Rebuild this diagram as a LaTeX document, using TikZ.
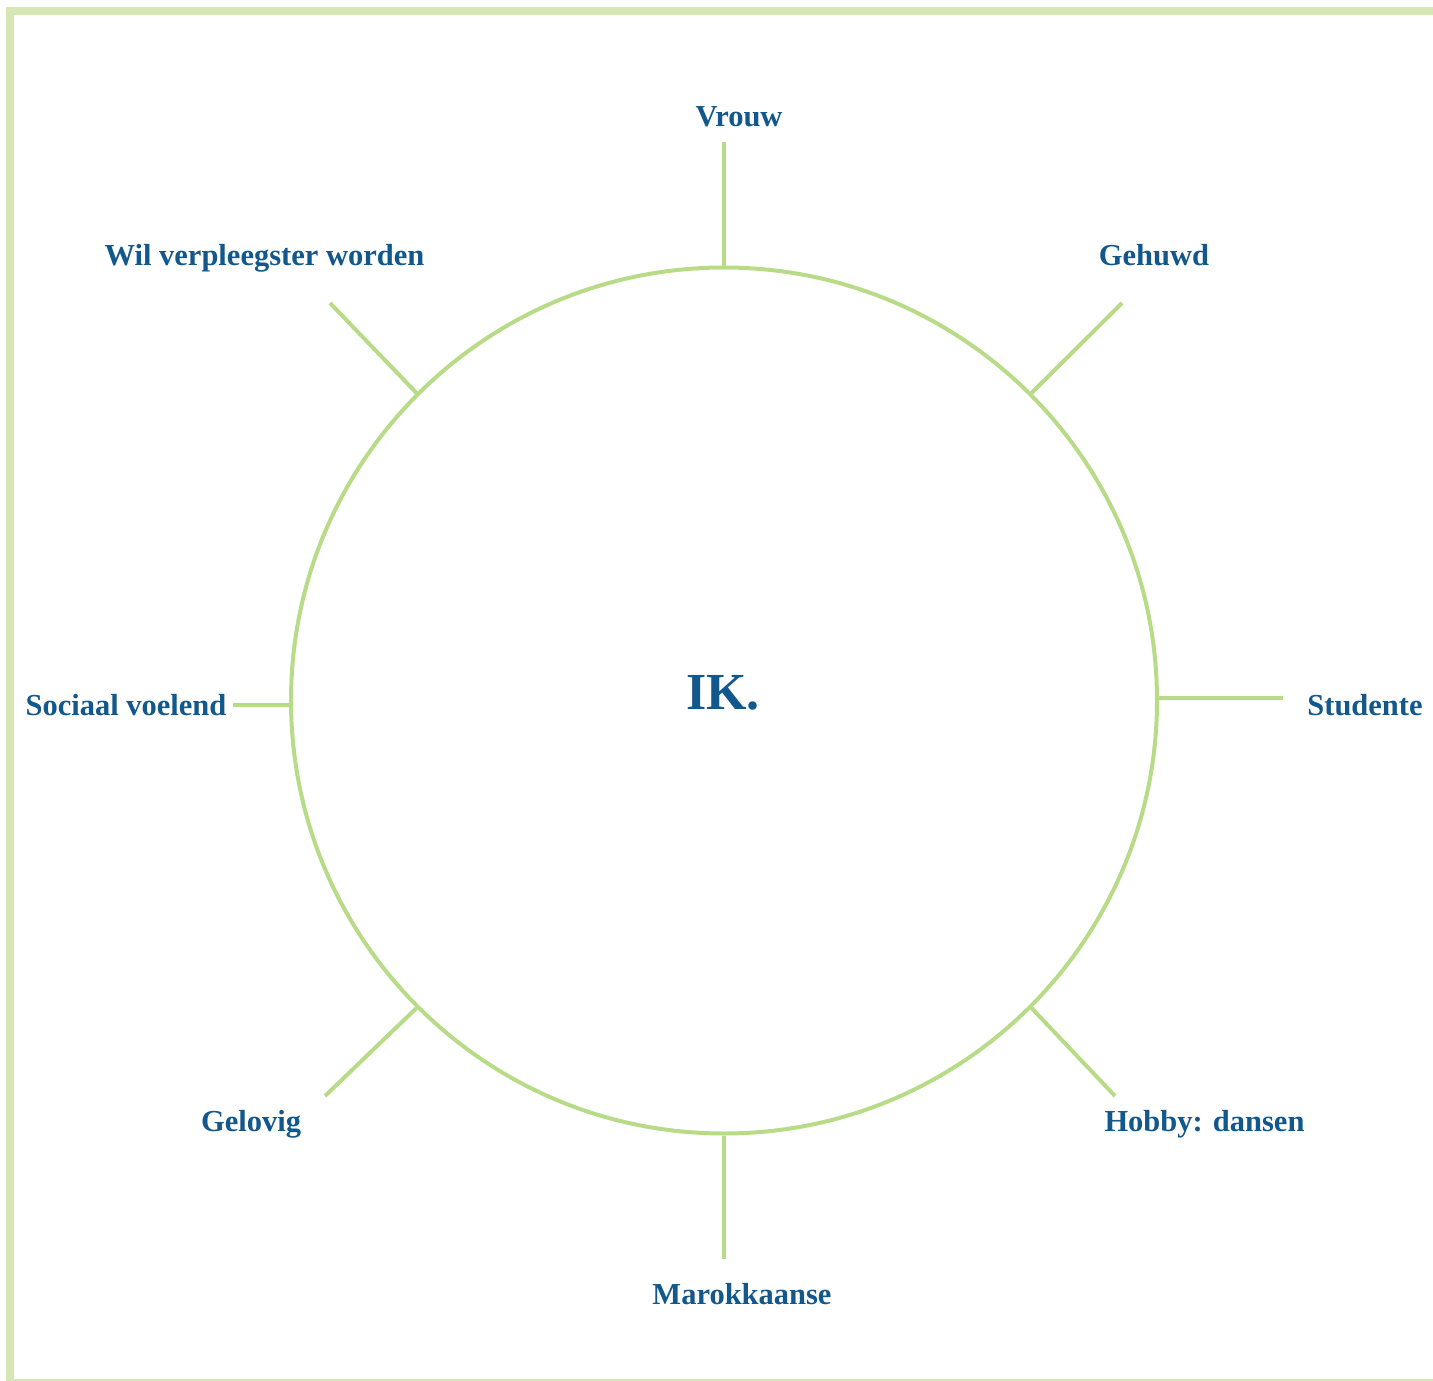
\documentclass[tikz,border=0pt]{standalone}
\usepackage{fontspec}
\setmainfont{Liberation Serif}
\definecolor{framegreen}{RGB}{214,230,180}
\definecolor{ringgreen}{RGB}{184,219,135}
\definecolor{labelblue}{RGB}{18,88,140}
\begin{document}
\begin{tikzpicture}[x=1pt,y=-1pt,
  frameline/.style={draw=framegreen,line width=8pt},
  ring/.style={circle,draw=ringgreen,line width=4pt,minimum size=866pt,inner sep=0pt},
  spoke/.style={draw=ringgreen,line width=4pt},
  trait/.style={text=labelblue,font=\fontsize{30.5}{36}\selectfont\bfseries,anchor=base,inner sep=0pt},
  centre/.style={text=labelblue,font=\fontsize{52}{60}\selectfont\bfseries,anchor=base,inner sep=0pt}]
\useasboundingbox (0,0) rectangle (1433,1381);
\clip (0,0) rectangle (1433,1381);
% outer frame (open to the right)
\draw[frameline] (10,11) rectangle (1450,1383);
% the self circle
\node[ring] (ring) at (724,700.5) {};
\node[centre] (ik) at (723,709) {IK.};
% free ends of the spokes
\coordinate (eN)  at (724,142);
\coordinate (eNE) at (1122,303);
\coordinate (eE)  at (1283,698);
\coordinate (eSE) at (1115,1096);
\coordinate (eS)  at (724,1259);
\coordinate (eSW) at (325,1096);
\coordinate (eW)  at (233,705);
\coordinate (eNW) at (330,303);
\draw[spoke] (ring.90)  -- (eN);
\draw[spoke] (ring.45)  -- (eNE);
\draw[spoke] (ring.east |- eE) -- (eE);
\draw[spoke] (ring.-45) -- (eSE);
\draw[spoke] (ring.-90) -- (eS);
\draw[spoke] (ring.-135) -- (eSW);
\draw[spoke] (ring.west |- eW) -- (eW);
\draw[spoke] (ring.135) -- (eNW);
% traits
\node[trait] (vrouw) at (739,126.5) {Vrouw};
\node[trait] (gehuwd) at (1154,265) {Gehuwd};
\node[trait] (studente) at (1365,715.5) {Studente};
\node[trait] (hobby) at (1204.5,1131.5) {Hobby: dansen};
\node[trait] (marok) at (742,1304) {Marokkaanse};
\node[trait] (gelovig) at (251,1131.5) {Gelovig};
\node[trait] (sociaal) at (126,715) {Sociaal voelend};
\node[trait] (verpleeg) at (264.5,265) {Wil verpleegster worden};
\end{tikzpicture}
\end{document}
